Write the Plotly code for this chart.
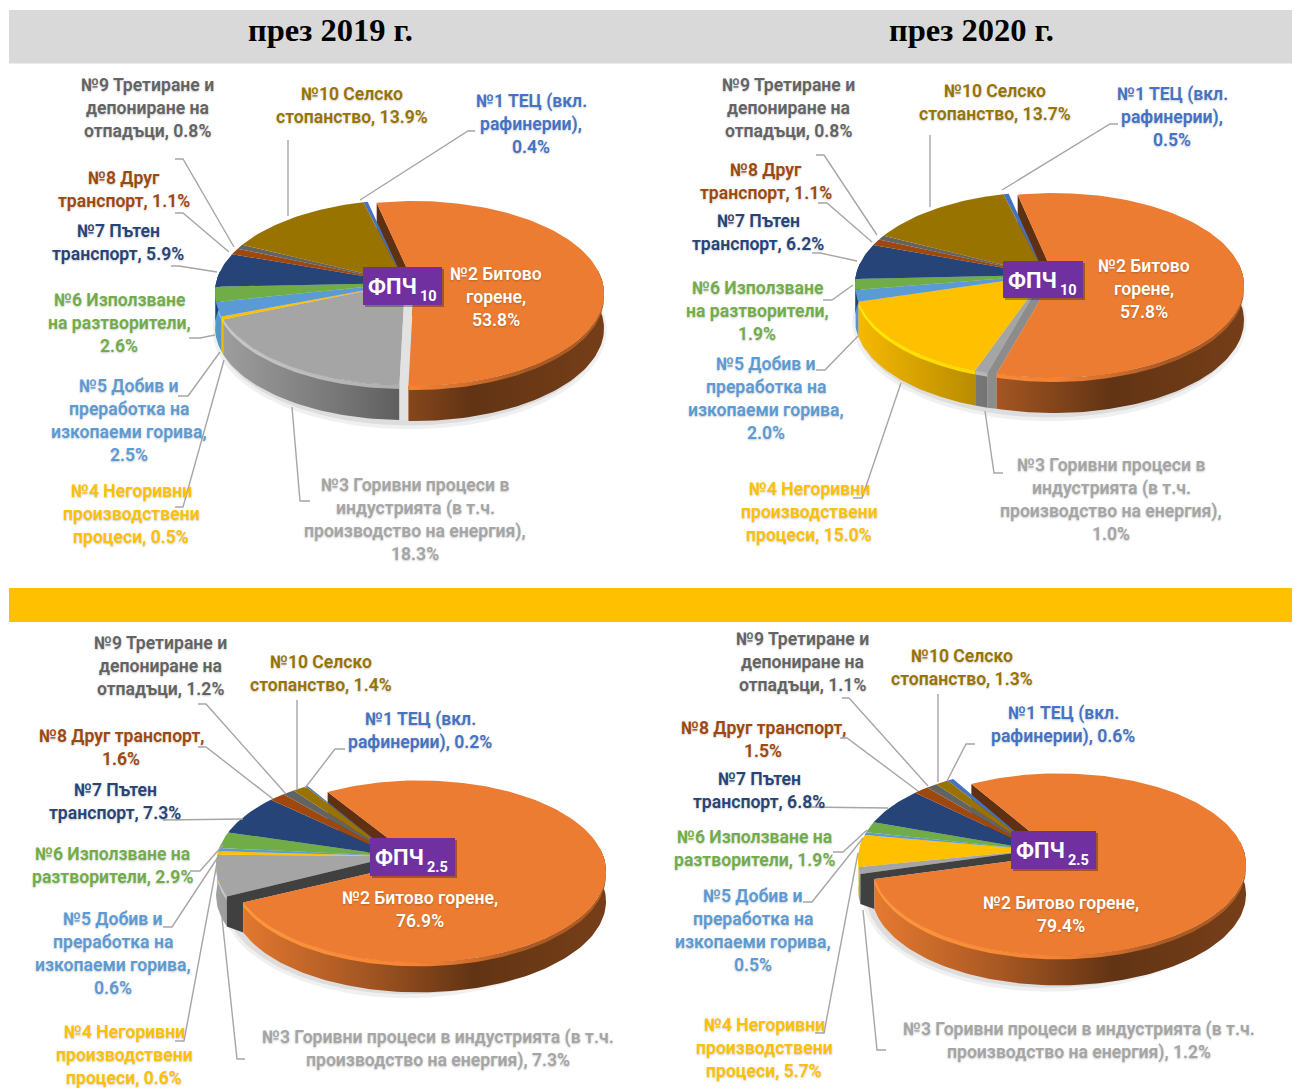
import numpy as np
import plotly.graph_objects as go

# ---------- data ----------
sectors = ["№1 ТЕЦ", "№2 Битово горене", "№3 Горивни процеси", "№4 Негоривни", "№5 Добив",
           "№6 Разтворители", "№7 Пътен транспорт", "№8 Друг транспорт", "№9 Отпадъци", "№10 Селско стопанство"]
colors = ["#4472C4", "#EB7C31", "#A5A5A5", "#FFC000", "#5B9BD5",
          "#70AD47", "#264478", "#9E480E", "#636363", "#997300"]
pm10_2019 = [0.4, 53.8, 18.3, 0.5, 2.5, 2.6, 5.9, 1.1, 0.8, 13.9]
pm10_2020 = [0.5, 57.8, 1.0, 15.0, 2.0, 1.9, 6.2, 1.1, 0.8, 13.7]
pm25_2019 = [0.2, 76.9, 7.3, 0.6, 0.6, 2.9, 7.3, 1.6, 1.2, 1.4]
pm25_2020 = [0.6, 79.4, 1.2, 5.7, 0.5, 1.9, 6.8, 1.5, 1.1, 1.3]
titles = ["през 2019 г.", "през 2020 г."]

# label wording, {v} is the value of the sector in the panel
L_1A = ["№1 ТЕЦ (вкл.", "рафинерии),", "{v}%"]
L_1B = ["№1 ТЕЦ (вкл.", "рафинерии), {v}%"]
L_2A = ["№2 Битово", "горене,", "{v}%"]
L_2B = ["№2 Битово горене,", "{v}%"]
L_3A = ["№3 Горивни процеси в", "индустрията (в т.ч.", "производство на енергия),", "{v}%"]
L_3B = ["№3 Горивни процеси в индустрията (в т.ч.", "производство на енергия), {v}%"]
L_4 = ["№4 Негоривни", "производствени", "процеси, {v}%"]
L_5 = ["№5 Добив и", "преработка на", "изкопаеми горива,", "{v}%"]
L_6A = ["№6 Използване", "на разтворители,", "{v}%"]
L_6B = ["№6 Използване на", "разтворители, {v}%"]
L_7 = ["№7 Пътен", "транспорт, {v}%"]
L_8A = ["№8 Друг", "транспорт, {v}%"]
L_8B = ["№8 Друг транспорт,", "{v}%"]
L_9 = ["№9 Третиране и", "депониране на", "отпадъци, {v}%"]
L_10 = ["№10 Селско", "стопанство, {v}%"]

# ---------- layout of each panel (pixel space) ----------
panels = [
    dict(values=pm10_2019, cx=405, cy=283, rx=189, ry=91.5, depth=35, start=-14, ex=(9, 1), osc=1.0,
         gap="#E2E2E2", sub="10", box=(363, 267, 442, 305),
         words=[L_1A, L_2A, L_3A, L_4, L_5, L_6A, L_7, L_8A, L_9, L_10],
         pos=[(531, 101), (496, 274), (415, 485), (131, 491), (129, 386), (119, 300), (118, 231), (124, 178), (147, 85), (352, 94)],
         lead=[[(475, 131), (468, 131), (360, 200)], None, [(292, 407), (300, 501), (310, 501)],
               [(175, 507), (183, 507), (224, 360)], [(178, 396), (188, 396), (220, 352)],
               [(189, 338), (200, 338), (215, 335)], [(171, 266), (179, 266), (217, 272)],
               [(175, 213), (183, 213), (229, 252)], [(175, 159), (183, 159), (234, 247)], [(288, 140), (288, 216)]]),
    dict(values=pm10_2020, cx=1045, cy=275, rx=189, ry=91.5, depth=35, start=-14, ex=(9, 1), osc=1.0,
         gap="#8C8C8C", sub="10", box=(1003, 261, 1083, 298),
         words=[L_1A, L_2A, L_3A, L_4, L_5, L_6A, L_7, L_8A, L_9, L_10],
         pos=[(1172, 94), (1144, 266), (1111, 465), (809, 489), (766, 364), (757, 288), (758, 221), (766, 170), (788, 85), (995, 91)],
         lead=[[(1118, 124), (1110, 124), (1002, 190)], None, [(985, 411), (994, 473), (1003, 473)],
               [(853, 498), (862, 498), (901, 383)], [(816, 370), (825, 370), (858, 336)],
               [(823, 300), (832, 300), (853, 285)], [(812, 253), (820, 253), (857, 261)],
               [(818, 203), (827, 203), (872, 242)], [(816, 155), (824, 155), (877, 235)], [(930, 135), (930, 207)]]),
    dict(values=pm25_2019, cx=395, cy=856, rx=178, ry=90, depth=30, start=-33, ex=(24, 6), osc=1.045,
         gap="#404040", sub="2.5", box=(370, 838, 455, 876),
         words=[L_1B, L_2B, L_3B, L_4, L_5, L_6B, L_7, L_8B, L_9, L_10],
         pos=[(420, 719), (420, 898), (438, 1037), (124, 1032), (113, 919), (112, 854), (115, 790), (121, 736), (160, 643), (321, 662)],
         lead=[[(345, 749), (335, 749), (305, 788)], None, [(222, 918), (237, 1059), (245, 1059)],
               [(175, 1041), (184, 1041), (217, 863)], [(163, 927), (172, 927), (218, 857)],
               [(190, 871), (200, 871), (223, 845)], [(163, 820), (243, 819)],
               [(198, 747), (206, 747), (273, 799)], [(198, 704), (206, 704), (286, 794)], [(297, 700), (297, 790)]]),
    dict(values=pm25_2020, cx=1037, cy=850, rx=178, ry=90, depth=30, start=-33, ex=(22, 5), osc=1.045,
         gap="#404040", sub="2.5", box=(1011, 831, 1096, 869),
         words=[L_1B, L_2B, L_3B, L_4, L_5, L_6B, L_7, L_8B, L_9, L_10],
         pos=[(1063, 713), (1061, 903), (1079, 1029), (764, 1025), (753, 896), (754, 837), (759, 779), (763, 728), (802, 639), (962, 656)],
         lead=[[(975, 744), (966, 744), (947, 781)], None, [(863, 910), (877, 1050), (886, 1050)],
               [(815, 1033), (824, 1033), (858, 853)], [(803, 902), (812, 902), (863, 838)],
               [(833, 852), (843, 852), (867, 830)], [(805, 807), (888, 808)],
               [(840, 738), (847, 738), (918, 791)], [(842, 698), (849, 698), (928, 786)], [(938, 694), (938, 782)]]),
]
PERSP = 0.103
LINE_H = 23
FONT = "Roboto"
GREY_LEAD = "#A6A6A6"


def rgb(c):
    return np.array([int(c[i:i + 2], 16) for i in (1, 3, 5)], float)


def shade(c, f):
    a = np.clip(rgb(c) * f, 0, 255).astype(int)
    return f"rgb({a[0]},{a[1]},{a[2]})"


def project(p, deg, ox=0.0, oy=0.0, sc=1.0):
    t = np.radians(np.asarray(deg, float))
    u, v = np.sin(t), -np.cos(t)
    w = 1 - PERSP * v
    return p["cx"] + ox + sc * p["rx"] * u / w, p["cy"] + oy + p["ry"] * v / w


def arc(a0, a1):
    n = max(2, int(abs(a1 - a0) / 1.5) + 2)
    return np.linspace(a0, a1, n)


fig = go.Figure()


def poly(x, y, color=None, grad=None, opacity=1.0):
    kw = dict(x=list(x), y=list(y), mode="lines", fill="toself", hoverinfo="skip",
              showlegend=False, opacity=opacity, line=dict(width=0, color="rgba(0,0,0,0)"))
    if grad is not None:
        kw["fillgradient"] = grad
    else:
        kw["fillcolor"] = color
    fig.add_trace(go.Scatter(**kw))


def grad(p, c, ox, stops):
    return dict(type="horizontal", start=p["cx"] + ox - p["rx"], stop=p["cx"] + ox + p["rx"],
                colorscale=[[s, shade(c, f)] for s, f in stops])


WALL = [(0, .97), (.35, .70), (.65, .42), (1, .50)]
BEVEL = [(0, 1.22), (.5, 1.05), (.8, .72), (1, .75)]


def side(p, c, a0, a1, ox=0, oy=0, sc=1.0):
    """outer wall and its bright bevel for the arc a0..a1, only where it faces the viewer"""
    ang = arc(a0, a1)
    ang = ang[-np.cos(np.radians(ang)) > -0.15]
    if len(ang) < 2:
        return
    x, y = project(p, ang, ox, oy, sc)
    d = p["depth"]
    poly(np.r_[x, x[::-1]], np.r_[y, y[::-1] + d], grad=grad(p, c, ox, WALL))
    poly(np.r_[x, x[::-1]], np.r_[y, y[::-1] + 4], grad=grad(p, c, ox, BEVEL))


def top(p, c, a0, a1, ox=0, oy=0, sc=1.0):
    x, y = project(p, arc(a0, a1), ox, oy, sc)
    poly(np.r_[p["cx"] + ox, x], np.r_[p["cy"] + oy, y], color=c)


shapes = [
    dict(type="rect", x0=9, x1=1292, y0=10, y1=63.5, fillcolor="#D9D9D9", line_width=0, layer="below"),
    dict(type="rect", x0=9, x1=1292, y0=588, y1=622, fillcolor="#FFC000", line_width=0, layer="below"),
]
ann = []
for name, x in zip(titles, (330, 971)):
    ann.append(dict(x=x, y=30, text=f"<b>{name}</b>", showarrow=False, xanchor="center", yanchor="middle",
                    font=dict(family="Liberation Serif", size=32.5, color="#000000")))

for p in panels:
    vals = np.array(p["values"], float)
    edges = p["start"] + np.r_[0, np.cumsum(vals)] / vals.sum() * 360
    ox, oy = p["ex"]
    sc = p["osc"]
    s0, s1 = edges[1], edges[2]       # the pulled-out slice (№2)
    d = p["depth"]

    # soft ground shadow
    for grow, op in ((7, .06), (3.5, .08)):
        ang = arc(0, 360)
        x, y = project(p, ang, ox * .5, oy * .5 + d)
        poly(p["cx"] + ox * .5 + (x - p["cx"] - ox * .5) * (1 + grow / p["rx"]),
             p["cy"] + oy * .5 + d + (y - p["cy"] - oy * .5 - d) * (1 + grow / p["ry"]) + 1,
             color="#000000", opacity=op)

    # back wall of the pulled-out slice, seen through the upper gap
    rx, ry = project(p, s0, ox, oy, sc)
    poly([rx, p["cx"] + ox, p["cx"] + ox, rx], [ry, p["cy"] + oy, p["cy"] + oy + d, ry + d], color="#5F3011")

    # remaining slices: walls then tops
    order = [i for i in range(10) if i != 1]
    for i in order:
        if i != 0:
            side(p, colors[i], edges[i], edges[i + 1])
    for i in order:
        top(p, colors[i], edges[i], edges[i + 1])

    # strip in the lower gap
    nx, ny = project(p, s1)
    ex, ey = project(p, s1, ox, oy, sc)
    poly([p["cx"], nx, nx, ex, ex, p["cx"] + ox],
         [p["cy"], ny, ny + d, ey + d, ey, p["cy"] + oy], color=p["gap"])

    # the pulled-out slice
    side(p, colors[1], s0, s1, ox, oy, sc)
    top(p, colors[1], s0, s1, ox, oy, sc)

    # leader lines
    for pts in p["lead"]:
        if pts:
            path = "M" + " L".join(f"{a},{b}" for a, b in pts)
            shapes.append(dict(type="path", path=path, line=dict(color=GREY_LEAD, width=1.4), layer="above"))

    # centre tag
    x0, y0, x1, y1 = p["box"]
    shapes.append(dict(type="rect", x0=x0 + 2, x1=x1 + 2, y0=y0 + 2, y1=y1 + 2,
                       fillcolor="rgba(0,0,0,0.3)", line_width=0, layer="above"))
    shapes.append(dict(type="rect", x0=x0, x1=x1, y0=y0, y1=y1, fillcolor="#7030A0", line_width=0, layer="above"))
    ann.append(dict(x=x0 + 3, y=y0 + 19, text="ФПЧ", showarrow=False, xanchor="left", yanchor="middle",
                    font=dict(family=FONT, size=22, color="#FFFFFF", weight=700)))
    ann.append(dict(x=x0 + 55, y=y0 + 29, text=p["sub"], showarrow=False, xanchor="left", yanchor="middle",
                    font=dict(family=FONT, size=14.5, color="#FFFFFF", weight=700)))

    # labels, one annotation per line to hold the leading
    for i, lines in enumerate(p["words"]):
        x, y = p["pos"][i]
        col = "#FFFFFF" if i == 1 else colors[i]
        for k, tx in enumerate(lines):
            ann.append(dict(x=x, y=y + k * LINE_H, text=tx.format(v=f"{vals[i]:.1f}"), showarrow=False,
                            xanchor="center", yanchor="middle",
                            font=dict(family=FONT, size=17.6, color=col, weight=600,
                                      shadow="0 1px 2px rgba(0,0,0,0.22)")))

fig.update_layout(
    width=1295, height=1088, margin=dict(l=0, r=0, t=0, b=0),
    paper_bgcolor="#FFFFFF", plot_bgcolor="#FFFFFF", showlegend=False,
    xaxis=dict(range=[0, 1295], visible=False, fixedrange=True),
    yaxis=dict(range=[1088, 0], visible=False, fixedrange=True),
    shapes=shapes, annotations=ann, hovermode=False,
)
fig.write_html("out.html", post_script="document.body.style.margin='0';document.body.style.overflow='hidden';",
               config=dict(displayModeBar=False))
